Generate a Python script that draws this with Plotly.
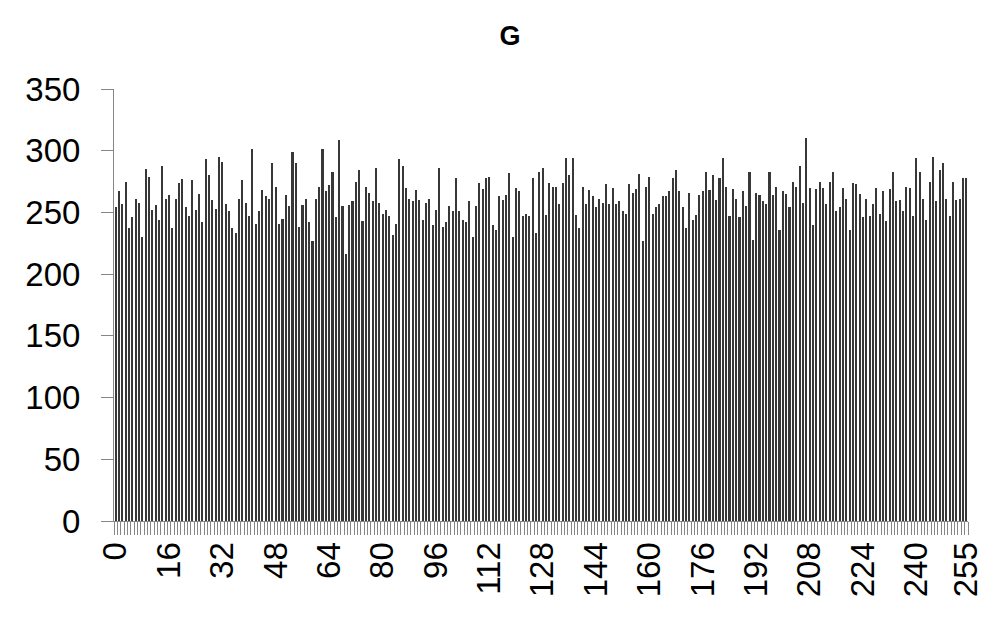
import plotly.graph_objects as go

title_text = "G"
categories = list(range(256))

values_0_31 = [254, 267, 257, 275, 237, 246, 261, 258, 230, 285, 279, 252, 256, 244, 288, 261,
               264, 237, 261, 274, 277, 254, 247, 276, 252, 265, 242, 293, 280, 260, 253, 295]
values_32_63 = [291, 257, 251, 237, 233, 261, 276, 258, 247, 301, 241, 251, 268, 263, 261, 290,
                271, 241, 245, 264, 255, 299, 290, 238, 256, 261, 242, 227, 261, 271, 301, 267]
values_64_95 = [272, 283, 246, 309, 255, 216, 256, 259, 275, 284, 243, 271, 266, 259, 286, 258,
                249, 252, 247, 232, 241, 293, 288, 270, 261, 259, 268, 260, 244, 258, 261, 240]
values_96_127 = [252, 286, 238, 242, 255, 251, 278, 251, 244, 242, 259, 230, 255, 274, 269, 278,
                 279, 240, 236, 263, 260, 264, 282, 230, 270, 267, 247, 249, 247, 278, 233, 283]
values_128_159 = [286, 248, 274, 271, 271, 257, 274, 294, 280, 294, 248, 237, 271, 257, 268, 263,
                  254, 261, 258, 273, 257, 270, 257, 259, 251, 249, 273, 266, 269, 281, 227, 271]
values_160_191 = [279, 249, 254, 257, 263, 263, 267, 278, 284, 267, 254, 237, 266, 244, 248, 264,
                  267, 283, 268, 280, 260, 278, 294, 271, 247, 269, 261, 246, 267, 255, 283, 228]
values_192_223 = [266, 264, 259, 257, 283, 264, 271, 236, 267, 265, 254, 275, 271, 288, 258, 310,
                  270, 240, 269, 275, 270, 257, 275, 283, 251, 254, 270, 261, 236, 274, 273, 265]
values_224_255 = [246, 261, 247, 257, 270, 249, 267, 243, 269, 283, 259, 260, 251, 271, 270, 247,
                  294, 283, 261, 244, 275, 295, 259, 284, 290, 261, 247, 275, 260, 261, 278, 278]

values = (values_0_31 + values_32_63 + values_64_95 + values_96_127 +
          values_128_159 + values_160_191 + values_192_223 + values_224_255)

x_tick_vals = [0, 16, 32, 48, 64, 80, 96, 112, 128, 144, 160, 176, 192, 208, 224, 240, 255]
x_tick_text = [str(v) for v in x_tick_vals]
y_tick_vals = [0, 50, 100, 150, 200, 250, 300, 350]

boundaries = [c - 0.5 for c in categories] + [categories[-1] + 0.5]

fig = go.Figure(
    go.Bar(x=categories, y=values, width=0.62,
           marker=dict(color="#383838", line=dict(width=0)))
)

axis_gray = "#868686"
font_family = "Liberation Sans, Arial, sans-serif"

# the page adds an 8px body margin, so the figure is sized/offset to compensate
W, H = 992, 609
fig.update_layout(
    width=W, height=H,
    paper_bgcolor="white", plot_bgcolor="white",
    margin=dict(l=106, r=32, t=81, b=96, autoexpand=False),
    showlegend=False,
    bargap=0,
    title=dict(text="<b>" + title_text + "</b>", x=502 / W, xref="container", xanchor="center",
               y=1 - 28 / H, yref="container", yanchor="middle",
               font=dict(family=font_family, size=27, color="black")),
)

fig.update_xaxes(
    automargin=False,
    range=[-0.5, 255.5], tickmode="array", tickvals=x_tick_vals, ticktext=x_tick_text,
    tickangle=-90, ticks="outside", ticklen=5, tickcolor="rgba(0,0,0,0)",
    tickfont=dict(family=font_family, size=33, color="black"),
    ticklabelstandoff=2,
    showline=True, linecolor=axis_gray, linewidth=1, showgrid=False, zeroline=False,
    minor=dict(tickmode="array", tickvals=boundaries, ticks="outside", ticklen=13,
               tickcolor=axis_gray, tickwidth=1, showgrid=False),
)

fig.update_yaxes(
    automargin=False,
    range=[0, 350], tickmode="array", tickvals=y_tick_vals,
    ticks="outside", ticklen=12, tickcolor=axis_gray, tickwidth=1,
    tickfont=dict(family=font_family, size=33, color="black"),
    ticklabelstandoff=14,
    showline=True, linecolor=axis_gray, linewidth=1, showgrid=False, zeroline=False,
)

fig.write_html("out.html")
